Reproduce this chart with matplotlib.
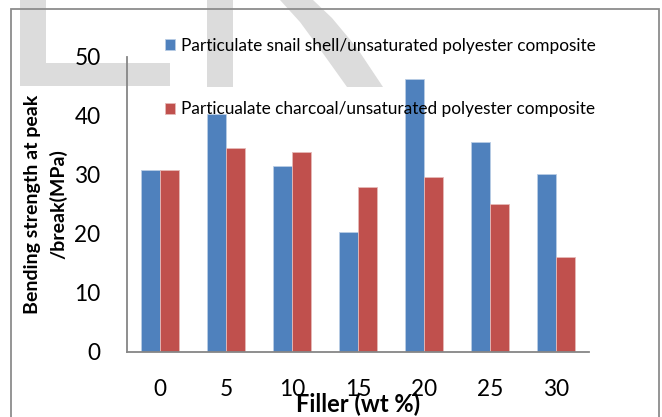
import matplotlib
matplotlib.use("Agg")
import numpy as np
import matplotlib.pyplot as plt
from matplotlib.patches import Rectangle, Polygon

# =========================
# DATA
# =========================
filler = ["0", "5", "10", "15", "20", "25", "30"]
snail_shell = [30.8, 40.4, 31.5, 20.3, 46.2, 35.5, 30.1]
charcoal = [30.8, 34.5, 33.9, 27.9, 29.7, 25.1, 16.0]
labels = ["Particulate snail shell/unsaturated polyester composite",
          "Particualate charcoal/unsaturated polyester composite"]

W, H = 662, 417
plt.rcParams['font.family'] = ['Lato', 'DejaVu Sans']

fig = plt.figure(figsize=(W / 100, H / 100), dpi=100)

def px(x, y):
    # pixel (from top-left) -> figure fraction
    return (x / W, 1 - y / H)

# watermark in the background
wm = '#dcdcdc'
for pts in ([(20, 0), (46, 0), (46, 63), (170, 63), (170, 86), (20, 86)],
            [(207, 0), (233, 0), (233, 87), (207, 87)],
            [(280, 0), (313, 0), (332, 18), (357, 48), (383, 87), (347, 87), (322, 52), (300, 22)]):
    fig.patches.append(Polygon([px(*p) for p in pts], closed=True, transform=fig.transFigure,
                               facecolor=wm, edgecolor='none', zorder=-2))

# outer chart border
fig.patches.append(Rectangle(px(11, 430), (659 - 11) / W, (430 - 9) / H, transform=fig.transFigure,
                             fill=False, edgecolor='#8c8c8c', linewidth=1.3, zorder=-1))

ax = fig.add_axes([127 / W, 1 - 351.5 / H, (589 - 127) / W, (351.5 - 57) / H])
ax.patch.set_alpha(0)
ax.set_zorder(3)

x = np.arange(len(filler))
w = 1 / 3.5
ax.bar(x - w / 2, snail_shell, w, color='#4f81bd', edgecolor='#b9cde5', linewidth=0.6, label=labels[0])
ax.bar(x + w / 2, charcoal, w, color='#c0504d', edgecolor='#e6b9b8', linewidth=0.6, label=labels[1])

ax.set_xlim(-0.5, len(filler) - 0.5)
ax.set_ylim(0, 50)
ax.set_yticks([0, 10, 20, 30, 40, 50])
ax.set_xticks(x)
ax.set_xticklabels(filler)
ax.tick_params(axis='both', length=0, labelsize=16.3, colors='black')
ax.tick_params(axis='y', pad=19)
ax.tick_params(axis='x', pad=20)

for s in ['top', 'right']:
    ax.spines[s].set_visible(False)
for s in ['left', 'bottom']:
    ax.spines[s].set_color('#868686')
    ax.spines[s].set_linewidth(1.3)

ax.set_ylabel("Bending strength at peak\n/break(MPa)", fontsize=14, fontweight='bold',
              labelpad=5, linespacing=1.55)
ax.set_xlabel("Filler (wt %)", fontsize=17, fontweight='bold', va='center')
ax.xaxis.set_label_coords(0.5, (351.5 - 404) / 294.5)

ax.legend(loc='upper left', bbox_to_anchor=px(158, 31), bbox_transform=fig.transFigure,
          frameon=False, fontsize=12.4, handlelength=0.6, handleheight=0.6,
          handletextpad=0.35, labelspacing=2.75, borderaxespad=0)

fig.savefig("out.png", dpi=100)
